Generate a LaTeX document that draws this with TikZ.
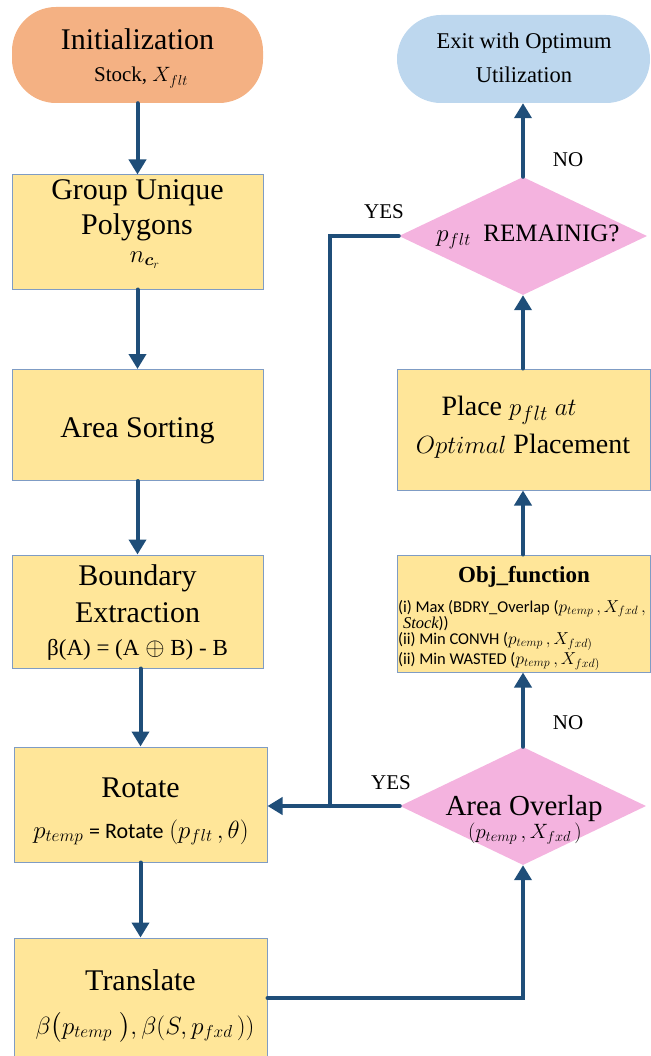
\documentclass[tikz,border=0pt]{standalone}
\usepackage{amsmath}
\usepackage{fontspec}
\setmainfont{Liberation Serif}
\newfontfamily\calibri{Carlito}
\usetikzlibrary{arrows.meta,shapes.geometric}

\definecolor{flowline}{HTML}{1F4E79}
\definecolor{boxfill}{HTML}{FFE699}
\definecolor{boxline}{HTML}{7F9CC4}
\definecolor{startfill}{HTML}{F4B183}
\definecolor{endfill}{HTML}{BDD7EE}
\definecolor{decfill}{HTML}{F4B3DF}

% serif text at a given size (one pt per pixel of the layout)
\newcommand{\fs}[1]{\fontsize{#1}{#1}\selectfont}
% sans text at a given size
\newcommand{\fc}[1]{\calibri\fontsize{#1}{#1}\selectfont}

\tikzset{
  procbox/.style={draw=boxline, line width=1pt, fill=boxfill, inner sep=0pt,
                  minimum width=#1, rectangle},
  procbox/.default=251pt,
  terminal/.style={fill=#1, rounded corners=44pt, inner sep=0pt, rectangle},
  decision/.style={diamond, fill=decfill, inner sep=0pt},
  txt/.style={anchor=base, inner sep=0pt, outer sep=0pt},
  ltxt/.style={anchor=base west, inner sep=0pt, outer sep=0pt},
  link/.style={draw=flowline, line width=4pt, line cap=round},
  flow/.style={link, -{Triangle[width=17pt,length=15pt]}},
  answer/.style={anchor=base, inner sep=0pt, font=\fs{21}}
}

\begin{document}
\begin{tikzpicture}[x=1pt,y=-1pt]
\useasboundingbox (0,0) rectangle (650,1056);

% ---------- left column ----------
\node[terminal=startfill, minimum width=251pt, minimum height=96pt] (init) at (137.5,55) {};
\node[txt, font=\fs{30}] (initT) at (137.5,50) {Initialization};
\node[txt, font=\fs{21}] (initS) at (141,82) {Stock, $X_{flt}$};

\node[procbox, minimum height=114pt] (group) at (137.5,232) {};
\node[txt, font=\fs{30}] (groupA) at (137.5,200) {Group Unique};
\node[txt, font=\fs{30}] (groupB) at (137,235) {Polygons};
\node[txt, font=\fs{26}] (groupC) at (145,262) {$n_{\boldsymbol{c}_r}$};

\node[procbox, minimum height=111pt] (sort) at (137.5,425) {};
\node[txt, font=\fs{30}] (sortT) at (137.5,437) {Area Sorting};

\node[procbox, minimum height=113pt] (bound) at (137.5,611.5) {};
\node[txt, font=\fs{30}] (boundA) at (137.5,585) {Boundary};
\node[txt, font=\fs{30}] (boundB) at (137.5,622) {Extraction};
\node[txt, font=\fs{23}] (boundC) at (137.5,655) {β(A) = (A $\oplus$ B) - B};

\node[procbox=253pt, minimum height=115pt] (rotate) at (140.5,804.5) {};
\node[txt, font=\fs{30}] (rotT) at (140.5,797) {Rotate};
\node[txt, font=\fs{23}] (rotF) at (141,838) {$p_{temp}$ {\fc{22}= Rotate} $(p_{flt}\,,\theta)$};

\node[procbox=253pt, minimum height=120pt] (translate) at (140.5,998) {};
\node[txt, font=\fs{30}] (trT) at (140.5,990) {Translate};
\node[txt, font=\fs{23}] (trF) at (145,1034)
  {$\beta\smash{\bigl(}p_{temp}\;\smash{\bigr)},\beta(S,p_{fxd}\,))$};

% ---------- right column ----------
\node[terminal=endfill, minimum width=253pt, minimum height=88pt] (exit) at (523.5,59) {};
\node[txt, font=\fs{22.5}] (exitA) at (524,49) {Exit with Optimum};
\node[txt, font=\fs{22.5}] (exitB) at (524,83) {Utilization};

\node[decision, minimum width=248pt, minimum height=118pt] (remain) at (523,236) {};
\node[txt, font=\fs{25}] (remainT) at (528,242) {$p_{flt}$\ \ REMAINIG?};

\node[procbox=253pt, minimum height=121pt] (place) at (523.5,429.5) {};
\node[txt, font=\fs{28}] (placeA) at (509,415) {Place $p_{flt}$\ $at$};
\node[txt, font=\fs{28}] (placeB) at (523,453) {$Optimal$ Placement};

\node[procbox=253pt, minimum height=117pt] (obj) at (523.5,613.5) {};
\node[txt, font=\fs{23}\bfseries] (objT) at (524,582) {Obj\_function};
\node[ltxt, font=\fc{16.5}] (objA) at (398,612) {(i) Max (BDRY\_Overlap ($p_{temp}\,,X_{fxd}\,,$};
\node[ltxt, font=\fc{16.5}] (objB) at (403,628) {$\mathit{Stock}$))};
\node[ltxt, font=\fc{16.5}] (objC) at (398,644) {(ii) Min CONVH ($p_{temp}\,,X_{fxd)}$};
\node[ltxt, font=\fc{16.5}] (objD) at (398,664) {(ii) Min WASTED ($p_{temp}\,,X_{fxd)}$};

\node[decision, minimum width=246pt, minimum height=118pt] (overlap) at (523,806) {};
\node[txt, font=\fs{29}] (ovT) at (524,815) {Area Overlap};
\node[txt, font=\fs{21}] (ovS) at (525,838) {$(p_{temp}\,,X_{fxd}\,)$};

% ---------- connectors ----------
\draw[flow] (init.south) -- (group.north);
\draw[flow] (group.south) -- (sort.north);
\draw[flow] (sort.south) -- (bound.north);
\draw[flow] (bound.south -| rotate.north) -- (rotate.north);
\draw[flow] (rotate.south) -- (translate.north);
\draw[flow] (translate.east) -| (overlap.south);
\draw[flow] (overlap.north) -- (overlap.north |- obj.south);
\draw[flow] (obj.north -| overlap.north) -- (overlap.north |- place.south);
\draw[flow] (place.north -| remain.south) -- (remain.south);
\draw[flow] (remain.north) -- (remain.north |- exit.south);

\coordinate (join) at (330,806);
\draw[link] (remain.west) -| (join);
\draw[flow] (overlap.west) -- (overlap.west -| rotate.east);

% ---------- branch labels ----------
\node[answer] (yesTop) at (384,219) {YES};
\node[answer] (noTop) at (568,167) {NO};
\node[answer] (yesLow) at (391,789) {YES};
\node[answer] (noLow) at (568,729) {NO};
\end{tikzpicture}
\end{document}
